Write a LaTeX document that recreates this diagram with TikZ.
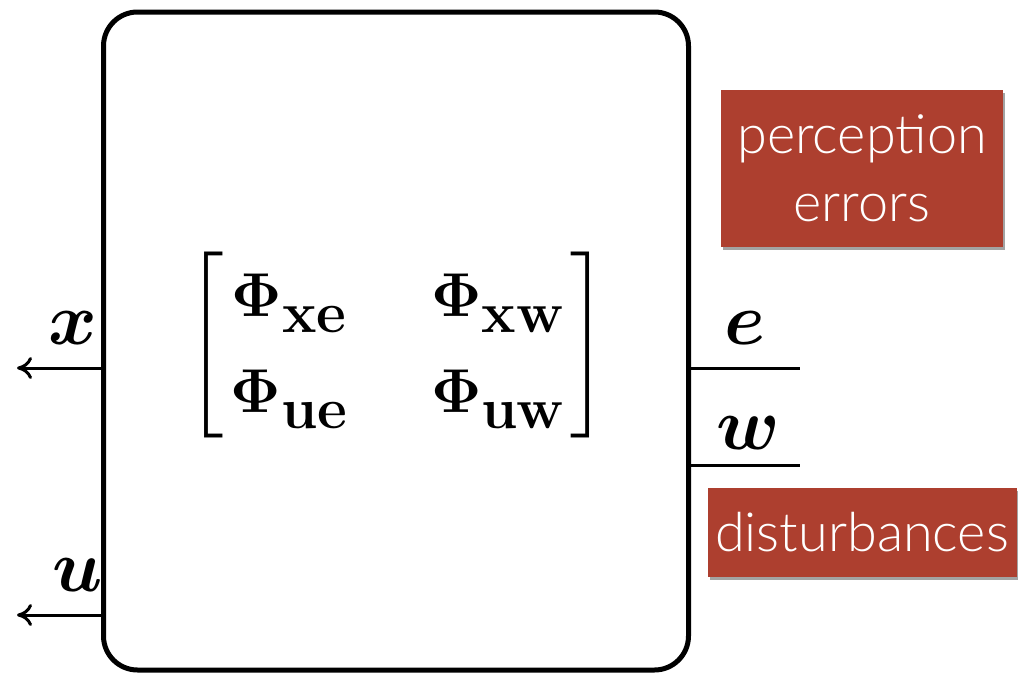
\documentclass[tikz,border=0pt]{standalone}
\usepackage{fix-cm}
\usepackage{amsmath,amssymb,bm}
\usepackage[no-math]{fontspec}
\newfontfamily\tagfont{Lato}[UprightFont=* Light]
\usetikzlibrary{arrows.meta,positioning,shadows}
\definecolor{brick}{HTML}{AD3F2F}
\newcommand{\phisub}[1]{\bm{\Phi}\raisebox{-16pt}{\fontsize{58}{60}\selectfont\bfseries #1}}

\tikzset{
  sysbox/.style={draw, line width=5pt, rounded corners=34pt, minimum width=585pt, minimum height=658pt},
  signal/.style={line width=3pt},
  tagbox/.style={fill=brick, text=white, align=center, inner sep=0pt,
    drop shadow={shadow xshift=2pt, shadow yshift=-3pt, fill=black!60, opacity=.6},
    font=\tagfont\fontsize{54}{68}\selectfont},
  siglab/.style={font=\fontsize{74}{86}\selectfont}
}

\begin{document}
\begin{tikzpicture}[yscale=-1, x=1pt, y=1pt, >={Computer Modern Rightarrow[length=15pt, width=22pt]}]
\useasboundingbox (0,0) rectangle (1018,675);
% the closed-loop system
\node[sysbox] (sys) at (396,341) {};
\node[font=\fontsize{62}{80}\selectfont] (phi) at (397,345)
  {$\delimiterfactor=700 \delimitershortfall=40pt
   \setlength\arraycolsep{42pt}\renewcommand\arraystretch{1.2}
   \begin{bmatrix}\kern7pt\phisub{xe} & \phisub{xw}\kern7pt\\
                  \kern7pt\phisub{ue} & \phisub{uw}\kern7pt\end{bmatrix}$};
% outputs on the left
\coordinate (xend) at (17,368);
\coordinate (uend) at (17,615);
\draw[signal, ->] (sys.west |- xend) -- (xend);
\draw[signal, ->] (sys.west |- uend) -- (uend);
\node[siglab] (xlab) at (73,328) {$\bm{x}$};
\node[siglab] (ulab) at (78,575) {$\bm{u}$};
% inputs on the right
\coordinate (eend) at (800,368);
\coordinate (wend) at (800,465);
\draw[signal] (sys.east |- eend) -- (eend);
\draw[signal] (sys.east |- wend) -- (wend);
\node[siglab] (elab) at (745,328) {$\bm{e}$};
\node[siglab] (wlab) at (748,433) {$\bm{w}$};
% tags
\node[tagbox, minimum width=282pt, minimum height=157pt] (perc) at (862,168) {perception\\errors};
\node[tagbox, minimum width=309pt, minimum height=89pt] (dist) at (862,532) {disturbances};
\end{tikzpicture}
\end{document}
